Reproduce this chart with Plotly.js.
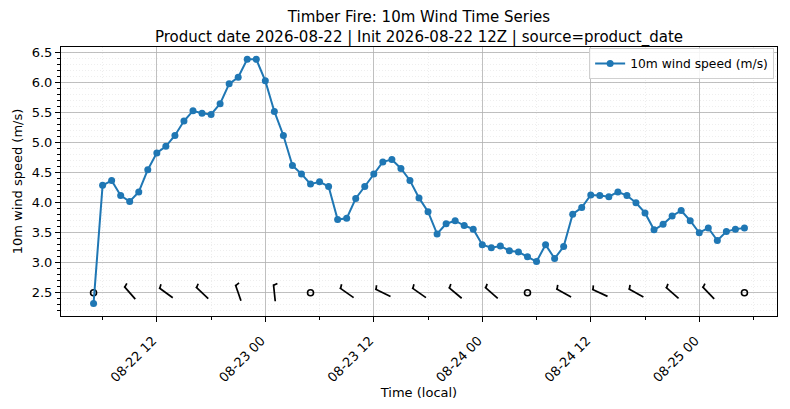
<!DOCTYPE html>
<html>
<head>
<meta charset="utf-8">
<script src="https://cdn.plot.ly/plotly-3.0.1.min.js"></script>
<style>
  html, body { margin: 0; padding: 0; background: #fff; }
  #chart { width: 790px; height: 409px; }
</style>
</head>
<body>
<div id="chart"></div>
<script>
// ─── Data ────────────────────────────────────────────────────────────────────

// hourly forecast, first valid time 08-22 05:00 local
const START_TIME = '2026-08-22 05:00';

const windSpeed = [
  2.32, 4.29, 4.37, 4.12, 4.02, 4.18, 4.55, 4.83, 4.94, 5.12,
  5.36, 5.53, 5.49, 5.47, 5.65, 5.98, 6.09, 6.39, 6.39, 6.03,
  5.52, 5.12, 4.62, 4.48, 4.31, 4.35, 4.27, 3.72, 3.74, 4.07,
  4.27, 4.48, 4.68, 4.72, 4.57, 4.37, 4.08, 3.85, 3.48, 3.65,
  3.70, 3.62, 3.56, 3.30, 3.25, 3.28, 3.20, 3.18, 3.10, 3.02,
  3.30, 3.07, 3.27, 3.81, 3.92, 4.13, 4.12, 4.10, 4.18, 4.12,
  4.00, 3.83, 3.55, 3.64, 3.78, 3.87, 3.70, 3.50, 3.58, 3.37,
  3.52, 3.56, 3.58,
];

// wind barbs every 4 h (0 kt = calm circle)
const BARB_EVERY = 4;
const BARB_Y     = 2.5;
const barbDirDeg = [0, 319, 306, 313, 341, 354, 0, 305, 296, 305, 310, 311, 0, 299, 295, 299, 311, 316, 0];
const barbSpeedKt = [0, 5, 5, 5, 5, 5, 0, 5, 5, 5, 5, 5, 0, 5, 5, 5, 5, 5, 0];

const yTicks = [2.5, 3.0, 3.5, 4.0, 4.5, 5.0, 5.5, 6.0, 6.5];

// ─── Layout constants ────────────────────────────────────────────────────────

const W = 790, H = 409;
const M = { l: 61, r: 13, t: 47, b: 93 };
const X_RANGE = ['2026-08-22 01:24', '2026-08-25 08:36'];
const Y_RANGE = [2.113, 6.594];
const HOUR = 3600 * 1000;

// ─── Helpers ─────────────────────────────────────────────────────────────────

function _ms(s) {
  const [d, t] = s.split(' ');
  const [Y, Mo, D] = d.split('-').map(Number);
  const [h, mi] = t.split(':').map(Number);
  return Date.UTC(Y, Mo - 1, D, h, mi);
}

function _fmt(ms) {
  const d = new Date(ms);
  const p = (n) => String(n).padStart(2, '0');
  return `${d.getUTCFullYear()}-${p(d.getUTCMonth() + 1)}-${p(d.getUTCDate())} ` +
         `${p(d.getUTCHours())}:${p(d.getUTCMinutes())}:${p(d.getUTCSeconds())}.${String(d.getUTCMilliseconds()).padStart(3, '0')}`;
}

const t0    = _ms(START_TIME);
const times = windSpeed.map((_, i) => _fmt(t0 + i * HOUR));

// pixel → data scale, so barbs keep a fixed on-screen size
const plotW = W - M.l - M.r;
const plotH = H - M.t - M.b;
const msPerPx = (_ms(X_RANGE[1]) - _ms(X_RANGE[0])) / plotW;
const yPerPx  = (Y_RANGE[1] - Y_RANGE[0]) / plotH;

function _barbs() {
  const bx = [], by = [], cx = [], cy = [];
  const half = 8.5;    // half shaft length, px
  barbDirDeg.forEach((dir, k) => {
    const tc = t0 + k * BARB_EVERY * HOUR;
    if (barbSpeedKt[k] === 0) {
      cx.push(_fmt(tc)); cy.push(BARB_Y);
      return;
    }
    const r  = dir * Math.PI / 180;
    const vx = Math.sin(r), vy = -Math.cos(r);   // pivot → flag end, screen px
    const px = -vy, py = vx;                     // clockwise side
    const pt = (ox, oy) => {
      bx.push(_fmt(tc + ox * msPerPx));
      by.push(BARB_Y - oy * yPerPx);
    };
    // shaft
    pt(-vx * half, -vy * half);
    pt(vx * half, vy * half);
    bx.push(null); by.push(null);
    // half barb near the flag end
    const sx = vx * (half - 1), sy = vy * (half - 1);
    pt(sx, sy);
    pt(sx + px * 4 + vx * 1.5, sy + py * 4 + vy * 1.5);
    bx.push(null); by.push(null);
  });
  return { bx, by, cx, cy };
}

// ─── Render ──────────────────────────────────────────────────────────────────

const b = _barbs();
const FONT = 'DejaVu Sans, Liberation Sans, sans-serif';
const MINOR_GRID = { showgrid: true, gridcolor: '#e3e3e3', griddash: '1px,2px', gridwidth: 0.6 };

const traces = [
  {
    x: b.bx, y: b.by, mode: 'lines', type: 'scatter', showlegend: false, hoverinfo: 'skip',
    line: { color: '#000', width: 1.7 },
  },
  {
    x: b.cx, y: b.cy, mode: 'markers', type: 'scatter', showlegend: false, hoverinfo: 'skip',
    marker: { symbol: 'circle-open', size: 6, color: '#000', line: { width: 1.6, color: '#000' } },
  },
  {
    x: times, y: windSpeed, mode: 'lines+markers', type: 'scatter', name: '10m wind speed (m/s)',
    line: { color: '#1f77b4', width: 2 },
    marker: { color: '#1f77b4', size: 7 },
  },
];

const layout = {
  width: W, height: H,
  margin: M,
  paper_bgcolor: '#fff', plot_bgcolor: '#fff',
  font: { family: FONT, size: 13, color: '#000' },
  title: {
    text: 'Timber Fire: 10m Wind Time Series<br>Product date 2026-08-22 | Init 2026-08-22 12Z | source=product_date',
    font: { family: FONT, size: 15, color: '#000' },
    x: 0.5, xref: 'paper', xanchor: 'center',
    y: 1 - 22 / H, yref: 'container', yanchor: 'top',
  },
  xaxis: {
    type: 'date', range: X_RANGE,
    tickmode: 'linear', tick0: '2026-08-22 00:00', dtick: 12 * HOUR,
    tickformat: '%m-%d %H', tickangle: -45,
    ticklabelstandoff: 6, ticklabelshift: -4,
    ticks: 'outside', ticklen: 5, tickcolor: '#000',
    showline: true, mirror: true, linecolor: '#000', linewidth: 1,
    showgrid: true, gridcolor: '#b0b0b0', gridwidth: 0.8,
    zeroline: false,
    minor: { dtick: 6 * HOUR, tick0: '2026-08-22 00:00', ticks: 'outside', ticklen: 3, tickcolor: '#000', ...MINOR_GRID },
    title: { text: 'Time (local)', font: { size: 13 }, standoff: 2 },
  },
  yaxis: {
    range: Y_RANGE, tickvals: yTicks, ticktext: yTicks.map((v) => v.toFixed(1)),
    ticks: 'outside', ticklen: 5, tickcolor: '#000',
    showline: true, mirror: true, linecolor: '#000', linewidth: 1,
    showgrid: true, gridcolor: '#b0b0b0', gridwidth: 0.8,
    zeroline: false,
    minor: { dtick: 0.1, tick0: 0, ticks: 'outside', ticklen: 3, tickcolor: '#000', ...MINOR_GRID },
    title: { text: '10m wind speed (m/s)', font: { size: 13 }, standoff: 6 },
  },
  legend: {
    x: 0.996, y: 0.996, xanchor: 'right', yanchor: 'top',
    bgcolor: 'rgba(255,255,255,0.85)', bordercolor: '#d0d0d0', borderwidth: 1,
    font: { size: 12.3 }, itemwidth: 30,
  },
  showlegend: true,
};

Plotly.newPlot('chart', traces, layout, { displayModeBar: false, staticPlot: true });
</script>
</body>
</html>
